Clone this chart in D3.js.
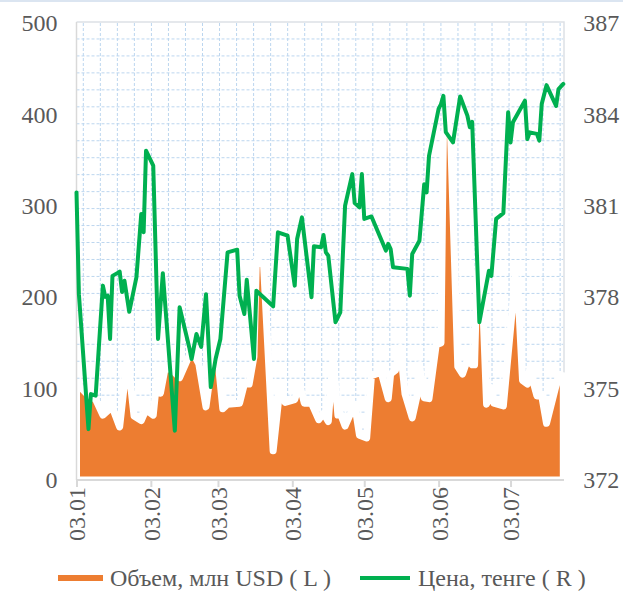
<!DOCTYPE html>
<html><head><meta charset="utf-8">
<script src="https://d3js.org/d3.v7.min.js"></script>
<style>html,body{margin:0;padding:0;background:#fff;}svg{display:block;} text{font-family:"Liberation Serif","DejaVu Serif","Times New Roman",serif;}</style>
</head><body>
<svg id="chart" width="623" height="591"></svg>
<script>
const priceDates = ["2023-01-03","2023-01-04","2023-01-08","2023-01-09","2023-01-11","2023-01-14","2023-01-15","2023-01-16","2023-01-17","2023-01-18","2023-01-20","2023-01-21","2023-01-22","2023-01-23","2023-01-25","2023-01-28","2023-01-30","2023-01-31","2023-02-01","2023-02-04","2023-02-06","2023-02-08","2023-02-13","2023-02-15","2023-02-19","2023-02-20","2023-02-22","2023-02-24","2023-02-26","2023-02-28","2023-03-02","2023-03-04","2023-03-07","2023-03-11","2023-03-12","2023-03-14","2023-03-15","2023-03-18","2023-03-19","2023-03-26","2023-03-28","2023-04-01","2023-04-04","2023-04-05","2023-04-07","2023-04-11","2023-04-12","2023-04-15","2023-04-16","2023-04-17","2023-04-18","2023-04-21","2023-04-23","2023-04-25","2023-04-28","2023-04-29","2023-05-01","2023-05-02","2023-05-03","2023-05-06","2023-05-12","2023-05-13","2023-05-14","2023-05-15","2023-05-21","2023-05-22","2023-05-23","2023-05-26","2023-05-28","2023-05-29","2023-05-30","2023-06-03","2023-06-04","2023-06-05","2023-06-06","2023-06-09","2023-06-12","2023-06-15","2023-06-16","2023-06-17","2023-06-20","2023-06-24","2023-06-25","2023-06-27","2023-06-30","2023-07-02","2023-07-03","2023-07-04","2023-07-09","2023-07-10","2023-07-11","2023-07-14","2023-07-15","2023-07-16","2023-07-18","2023-07-22","2023-07-23","2023-07-25"];
const priceValues = [381.44,378.10,373.67,374.82,374.77,378.38,378.01,378.05,376.63,378.70,378.79,378.84,378.17,378.54,377.52,378.66,380.73,380.13,382.81,382.32,376.63,378.79,373.62,377.67,376.36,375.97,376.79,376.37,378.10,375.05,375.97,376.63,379.47,379.56,378.05,377.45,378.57,375.97,378.21,377.70,380.13,380.02,378.38,379.91,380.62,378.00,379.67,379.64,380.04,379.47,379.36,377.18,377.50,381.00,382.04,381.09,380.95,382.04,380.57,380.65,379.53,379.75,379.58,378.98,378.93,378.05,379.42,379.85,381.71,381.44,382.64,384.18,384.34,384.61,383.42,383.08,384.59,383.96,383.58,383.76,377.18,378.87,378.70,380.57,380.76,384.07,383.08,383.74,384.45,383.19,383.41,383.36,383.14,384.34,384.96,384.28,384.83,385.00];

const volumeDates = ["2023-01-03","2023-01-07","2023-01-11","2023-01-14","2023-01-17","2023-01-18","2023-01-21","2023-01-24","2023-01-25","2023-01-27","2023-01-30","2023-02-01","2023-02-04","2023-02-06","2023-02-07","2023-02-09","2023-02-12","2023-02-15","2023-02-20","2023-02-23","2023-02-26","2023-03-02","2023-03-05","2023-03-07","2023-03-12","2023-03-14","2023-03-16","2023-03-18","2023-03-19","2023-03-22","2023-03-26","2023-03-29","2023-03-31","2023-04-04","2023-04-06","2023-04-08","2023-04-11","2023-04-14","2023-04-16","2023-04-18","2023-04-20","2023-04-22","2023-04-23","2023-04-25","2023-04-28","2023-04-29","2023-05-01","2023-05-04","2023-05-06","2023-05-10","2023-05-13","2023-05-14","2023-05-16","2023-05-18","2023-05-20","2023-05-23","2023-05-25","2023-05-26","2023-05-28","2023-05-30","2023-06-02","2023-06-04","2023-06-05","2023-06-07","2023-06-08","2023-06-11","2023-06-13","2023-06-16","2023-06-17","2023-06-18","2023-06-19","2023-06-20","2023-06-21","2023-06-23","2023-06-25","2023-06-26","2023-06-30","2023-07-05","2023-07-06","2023-07-08","2023-07-10","2023-07-11","2023-07-14","2023-07-16","2023-07-18","2023-07-23","2023-07-25"];
const volumeValues = [106,95,88,71,78,79,58,129,117,70,65,77,71,123,95,123,120,112,142,127,80,158,78,83,84,105,105,135,240,236,32,105,85,88,105,84,84,66,73,64,134,71,73,59,77,83,49,46,114,118,89,116,120,145,94,68,92,126,90,89,148,150,378,390,378,124,116,139,126,126,225,238,222,83,101,84,81,222,212,109,105,121,92,92,62,114,114];

const xTickDates = ["2023-01-03","2023-02-03","2023-03-03","2023-04-03","2023-05-03","2023-06-03","2023-07-03"];
const leftTicks = [0,100,200,300,400,500];
const rightTicks = [372,375,378,381,384,387];
const seriesNames = ["Объем, млн USD ( L )","Цена, тенге ( R )"];

const parse = d3.utcParse("%Y-%m-%d");
const price = priceDates.map((d,i)=>({date:parse(d), v:priceValues[i]}));
const volume = volumeDates.map((d,i)=>({date:parse(d), v:volumeValues[i]}));

const L = 76.5, R = 563.3, T = 23, B = 480;
const FONT = '"Liberation Serif","DejaVu Serif","Times New Roman",serif';
const FS = "24px";
const TXT = "#595959";
const ORANGE = "#ED7D31", GREEN = "#00B050";

const svg = d3.select("#chart");
const x = d3.scaleUtc().domain([parse("2023-01-03"), parse("2023-07-25")]).range([L, R]);
const yL = d3.scaleLinear().domain([0,500]).range([B, T]);
const yR = d3.scaleLinear().domain([372,387]).range([B, T]);

// chart border top
svg.append("line").attr("x1",0).attr("x2",623).attr("y1",1).attr("y2",1).attr("stroke","#dbe5f1").attr("stroke-width",2);

// background grid pattern
const grid = svg.append("g").attr("stroke","#bcd6ef").attr("stroke-width",1).attr("stroke-dasharray","3,2");
const gStepX = 17.03, gStepY = (B - 22)/27;
d3.range(0,29).forEach(k=>{
  const gx = 83.3 + k*gStepX;
  grid.append("line").attr("x1",gx).attr("x2",gx).attr("y1",23).attr("y2",B);
});
d3.range(1,27).forEach(k=>{
  const gy = B - k*gStepY;
  grid.append("line").attr("x1",L).attr("x2",R).attr("y1",gy).attr("y2",gy);
});

// frame top/right
svg.append("path").attr("d",`M${L},22H564V${B}`).attr("fill","none").attr("stroke","#dde1e6").attr("stroke-width",1.5);

// area
const area = d3.area().x(d=>x(d.date)).y0(yL(0)).y1(d=>yL(d.v));
svg.append("path").datum(volume).attr("d",area)
  .attr("fill",ORANGE).attr("stroke","#fff").attr("stroke-width",7).attr("stroke-linejoin","round");

// left axis line
svg.append("line").attr("x1",L).attr("x2",L).attr("y1",22).attr("y2",B).attr("stroke","#d9d9d9").attr("stroke-width",1.5);

// bottom axis
const xAxis = d3.axisBottom(x).tickValues(xTickDates.map(parse)).tickSize(7).tickFormat(d3.utcFormat("%d.%m"));
const gx = svg.append("g").attr("transform",`translate(0,${B})`).call(xAxis);
gx.attr("font-family",null);
gx.select(".domain").attr("stroke","#d9d9d9").attr("stroke-width",2).attr("d",`M${L},0H564`);
gx.selectAll(".tick line").attr("stroke","#d9d9d9").attr("stroke-width",2);
gx.selectAll(".tick text").style("font-family",FONT).style("font-size",FS).attr("fill",TXT)
  .attr("text-anchor","end").attr("transform","translate(0,7) rotate(-90)").attr("x",0).attr("y",0).attr("dy","0.35em");

// price line
const line = d3.line().x(d=>x(d.date)).y(d=>yR(d.v));
svg.append("path").datum(price).attr("d",line).attr("fill","none").attr("stroke",GREEN).attr("stroke-width",4).attr("stroke-linejoin","round").attr("stroke-linecap","round");

// y axes
const gl = svg.append("g").attr("transform",`translate(${L},0)`).call(d3.axisLeft(yL).tickValues(leftTicks).tickSize(0).tickPadding(19));
gl.attr("font-family",null);
gl.select(".domain").remove();
gl.selectAll("text").style("font-family",FONT).style("font-size",FS).attr("fill",TXT);
const gr = svg.append("g").attr("transform",`translate(${R},0)`).call(d3.axisRight(yR).tickValues(rightTicks).tickSize(0).tickPadding(20));
gr.attr("font-family",null);
gr.select(".domain").remove();
gr.selectAll("text").style("font-family",FONT).style("font-size",FS).attr("fill",TXT);

// legend
const lg = svg.append("g");
lg.append("rect").attr("x",58).attr("y",575).attr("width",45).attr("height",6).attr("fill",ORANGE);
lg.append("text").attr("x",110).attr("y",578).attr("dy","0.35em").text(seriesNames[0])
  .style("font-family",FONT).style("font-size",FS).attr("fill",TXT);
lg.append("line").attr("x1",360).attr("x2",410).attr("y1",578).attr("y2",578).attr("stroke",GREEN).attr("stroke-width",4);
lg.append("text").attr("x",418).attr("y",578).attr("dy","0.35em").text(seriesNames[1])
  .style("font-family",FONT).style("font-size",FS).attr("fill",TXT);
</script>
</body></html>
